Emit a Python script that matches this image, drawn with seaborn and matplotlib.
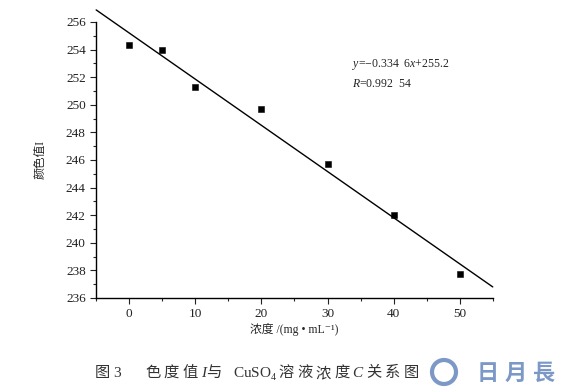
import numpy as np
import pandas as pd
import seaborn as sns
import matplotlib.pyplot as plt
from matplotlib.patches import Circle
from matplotlib.ticker import MultipleLocator

# data
conc = [0, 5, 10, 20, 30, 40, 50]
color_value = [254.3, 254.0, 251.3, 249.7, 245.7, 242.0, 237.7]
slope = -0.3346
intercept = 255.2
fit_x = [-5, 55]
x_ticks = [0, 10, 20, 30, 40, 50]
y_ticks = [236, 238, 240, 242, 244, 246, 248, 250, 252, 254, 256]

sns.set_style("ticks")
fonts = ["Liberation Serif", "Noto Sans CJK SC", "DejaVu Serif"]
plt.rcParams["font.family"] = fonts
plt.rcParams["mathtext.fontset"] = "custom"
plt.rcParams["mathtext.rm"] = "Liberation Serif"
plt.rcParams["mathtext.it"] = "Liberation Serif:italic"

df = pd.DataFrame({"conc": conc, "value": color_value})
fit = pd.DataFrame({"x": fit_x})
fit["y"] = slope * fit["x"] + intercept

fig = plt.figure(figsize=(5.69, 3.92), dpi=100)
ax = fig.add_axes([0.169, 0.240, 0.697, 0.704])

sns.lineplot(data=fit, x="x", y="y", ax=ax, color="black", linewidth=1.0)
ax.lines[-1].set_clip_on(False)
sns.scatterplot(data=df, x="conc", y="value", ax=ax, marker="s", s=22,
                color="black", edgecolor="black", zorder=3)

ax.set_xlim(-5, 55)
ax.set_ylim(236, 256)
ax.set_xticks(x_ticks)
ax.set_yticks(y_ticks)
ax.xaxis.set_minor_locator(MultipleLocator(5))
ax.yaxis.set_minor_locator(MultipleLocator(1))
ax.tick_params(which="major", direction="out", length=4, width=0.8,
               labelsize=9.5, colors="#222222")
ax.tick_params(which="minor", direction="out", length=2, width=0.8)
sns.despine(ax=ax)
for sp in ["left", "bottom"]:
    ax.spines[sp].set_linewidth(1.0)
    ax.spines[sp].set_color("black")

ax.set_xlabel("浓度 /(mg • mL\u207b\u00b9)", fontsize=8.5, labelpad=2)
ax.set_ylabel("颜色值I", fontsize=8.5, labelpad=14)

ax.text(0.645, 0.836, "$y$=\u22120.334  6$x$+255.2", transform=ax.transAxes,
        fontsize=8.5)
ax.text(0.645, 0.763, "$R$=0.992  54", transform=ax.transAxes, fontsize=8.5)

# caption: (text, style, size, baseline shift, gap after in px)
caption = [("图", "normal", 11, 0, 0),
           ("3", "normal", 11, 0, 24),
           ("色度值", "normal", 11, 0, 0),
           ("I", "italic", 11, 0, 0),
           ("与", "normal", 11, 0, 9),
           ("CuSO", "normal", 11, 0, 0),
           ("4", "normal", 7, -3, 3),
           ("溶液浓度", "normal", 11, 0, 0),
           ("C", "italic", 11, 0, 4),
           ("关系图", "normal", 11, 0, 0)]
cjk_pitch = 18.5
fig.canvas.draw()
renderer = fig.canvas.get_renderer()
x0 = 95
y0 = 15
for s, style, size, dy, gap in caption:
    for ch in s:
        t = fig.text(x0, y0 + dy, ch, fontsize=size, fontstyle=style,
                     color="#333333", transform=None)
        if ord(ch) > 0x2e80:
            x0 += cjk_pitch
        else:
            x0 += t.get_window_extent(renderer).width
    x0 += gap

# watermark logo
ring = Circle((444, 20), 12, transform=None, fill=False,
              edgecolor="#7b98c6", linewidth=3.0)
fig.patches.append(ring)
x0 = 477
for ch in "日月長":
    fig.text(x0, 12, ch, fontsize=16, color="#7b98c6",
             fontweight="bold", transform=None)
    x0 += 28

fig.savefig("out.png", dpi=100)
